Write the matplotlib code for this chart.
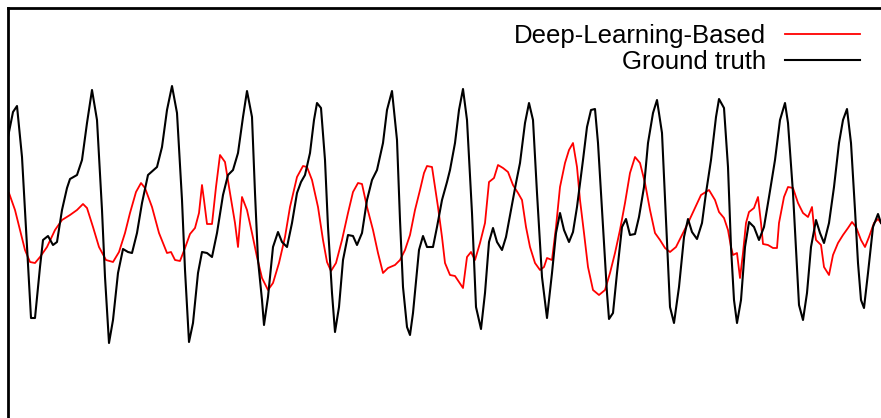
import matplotlib
matplotlib.use("Agg")
import matplotlib.pyplot as plt

plt.rcParams['font.family'] = ['Liberation Sans', 'DejaVu Sans']

# ground truth (sample index, amplitude)
gt_t = [0, 5, 9, 14, 19, 23, 27, 32, 35, 40,
        45, 49, 54, 59, 62, 69, 74, 79, 84, 89,
        94, 97, 101, 105, 110, 115, 120, 124, 129, 134,
        140, 149, 154, 159, 164, 169, 174, 177, 181, 185,
        190, 194, 199, 204, 209, 215, 220, 225, 230, 235,
        239, 244, 247, 250, 254, 256, 260, 265, 270, 274,
        279, 284, 289, 293, 297, 302, 306, 309, 313, 317,
        320, 324, 327, 331, 335, 340, 345, 349, 354, 359,
        364, 369, 375, 379, 384, 389, 392, 395, 399, 402,
        405, 411, 415, 419, 425, 429, 434, 439, 442, 447,
        451, 455, 459, 464, 468, 473, 477, 481, 485, 489,
        494, 498, 503, 508, 512, 517, 521, 525, 529, 534,
        539, 544, 548, 552, 556, 561, 565, 569, 575, 579,
        583, 587, 590, 595, 599, 601, 605, 609, 614, 618,
        622, 627, 631, 636, 640, 645, 649, 654, 658, 662,
        666, 671, 676, 680, 684, 689, 694, 698, 703, 708,
        711, 716, 720, 723, 726, 729, 733, 737, 741, 746,
        751, 756, 761, 767, 772, 777, 780, 785, 789, 791,
        795, 799, 803, 808, 812, 816, 821, 826, 831, 835,
        839, 843, 847, 850, 853, 856, 860, 865, 870, 873]
gt_y = [78, 103, 109, 58, -32, -103, -103, -52, -25, -21,
        -30, -27, 5, 27, 36, 40, 55, 92, 125, 95,
        5, -62, -128, -105, -58, -34, -37, -38, -18, 12,
        40, 48, 68, 105, 129, 102, 15, -55, -127, -108,
        -58, -37, -38, -42, -18, 20, 40, 45, 62, 98,
        124, 98, 22, -45, -85, -110, -82, -32, -17, -27,
        -32, -8, 22, 33, 40, 62, 95, 112, 107, 55,
        -12, -78, -117, -92, -45, -20, -21, -30, -18, 15,
        35, 45, 72, 105, 124, 75, -5, -72, -112, -120,
        -98, -35, -21, -32, -32, -12, 15, 33, 45, 72,
        105, 126, 95, 2, -92, -114, -78, -27, -13, -27,
        -35, -22, 5, 32, 52, 92, 112, 95, 22, -62,
        -103, -58, -18, 2, -15, -27, -17, 8, 55, 88,
        105, 106, 72, -12, -78, -104, -98, -58, -12, -4,
        -20, -19, -2, 28, 72, 102, 115, 82, -5, -92,
        -108, -72, -22, -4, -17, -24, -8, 22, 55, 98,
        116, 107, 48, -32, -85, -108, -85, -32, -7, -12,
        -25, -12, 18, 55, 95, 112, 92, 22, -52, -90,
        -105, -78, -32, -5, -18, -28, -8, 28, 72, 95,
        106, 72, 5, -48, -85, -93, -58, -12, 1, -8]

# deep-learning estimate
dl_t = [1, 7, 12, 17, 22, 27, 32, 39, 47, 54,
        62, 69, 75, 79, 85, 91, 98, 105, 111, 117,
        122, 128, 133, 137, 144, 151, 159, 163, 167, 172,
        177, 182, 187, 191, 194, 196, 199, 204, 208, 212,
        217, 222, 227, 230, 234, 239, 244, 249, 254, 260,
        265, 271, 277, 282, 289, 295, 299, 304, 310, 315,
        319, 323, 328, 334, 340, 345, 350, 354, 359, 365,
        370, 375, 380, 387, 392, 397, 402, 407, 412, 416,
        419, 424, 427, 430, 434, 437, 442, 447, 451, 455,
        459, 463, 467, 472, 477, 481, 486, 490, 495, 500,
        505, 510, 514, 518, 522, 527, 532, 536, 539, 544,
        548, 552, 557, 561, 565, 569, 572, 576, 580, 585,
        591, 597, 602, 607, 612, 617, 622, 627, 632, 637,
        642, 647, 652, 657, 662, 668, 673, 680, 686, 693,
        701, 707, 711, 716, 720, 723, 725, 729, 732, 735,
        738, 741, 746, 750, 753, 755, 760, 765, 769, 771,
        776, 780, 785, 790, 795, 800, 804, 806, 808, 813,
        816, 821, 825, 830, 835, 840, 844, 848, 853, 857,
        861, 866, 870, 873]
dl_y = [22, 5, -15, -35, -47, -48, -42, -32, -15, -5,
        0, 5, 11, 7, -12, -32, -45, -47, -37, -18,
        2, 23, 32, 27, 8, -18, -38, -37, -45, -46,
        -33, -19, -13, 2, 30, 15, -9, -9, 28, 60,
        53, 22, -8, -32, 18, 5, -18, -42, -63, -75,
        -68, -48, -22, 8, 38, 49, 48, 35, 8, -25,
        -47, -56, -48, -25, 2, 23, 32, 31, 8, -15,
        -38, -58, -53, -50, -45, -35, -20, 5, 25, 42,
        49, 48, 28, 8, -22, -48, -60, -61, -67, -73,
        -42, -37, -45, -28, -8, 33, 37, 50, 47, 43,
        30, 22, 15, -12, -32, -48, -55, -52, -43, -45,
        -12, 28, 52, 65, 72, 48, 15, -18, -52, -75,
        -80, -75, -58, -38, -15, 12, 42, 58, 52, 32,
        5, -18, -25, -33, -37, -32, -22, -8, 5, 20,
        25, 15, 3, -3, -15, -32, -40, -38, -63, -38,
        -8, 3, 7, 18, -8, -29, -30, -33, -33, -8,
        18, 28, 27, 12, 2, -2, 8, -12, -25, -30,
        -52, -60, -40, -28, -20, -13, -7, -12, -25, -32,
        -22, -8, -4, -8]

fig = plt.figure(figsize=(8.81, 4.18), dpi=100)
ax = fig.add_axes([8 / 881, 0, 873 / 881, 410 / 418])

ax.plot(dl_t, dl_y, color="#ff0000", lw=1.3, label="Deep-Learning-Based")
ax.plot(gt_t, gt_y, color="black", lw=1.5, label="Ground truth")

ax.set_xlim(0, 873)
ax.set_ylim(-203, 207)
ax.set_xticks([])
ax.set_yticks([])
for s in ["right", "bottom"]:
    ax.spines[s].set_visible(False)
for s in ["left", "top"]:
    ax.spines[s].set_linewidth(2.0)

ax.legend(loc="upper right", bbox_to_anchor=(0.988, 0.986), frameon=False,
          markerfirst=False, fontsize=18.5, handlelength=2.92,
          handletextpad=0.74, labelspacing=0.07, borderaxespad=0.0,
          borderpad=0.4)

fig.savefig("out.png", dpi=100)
